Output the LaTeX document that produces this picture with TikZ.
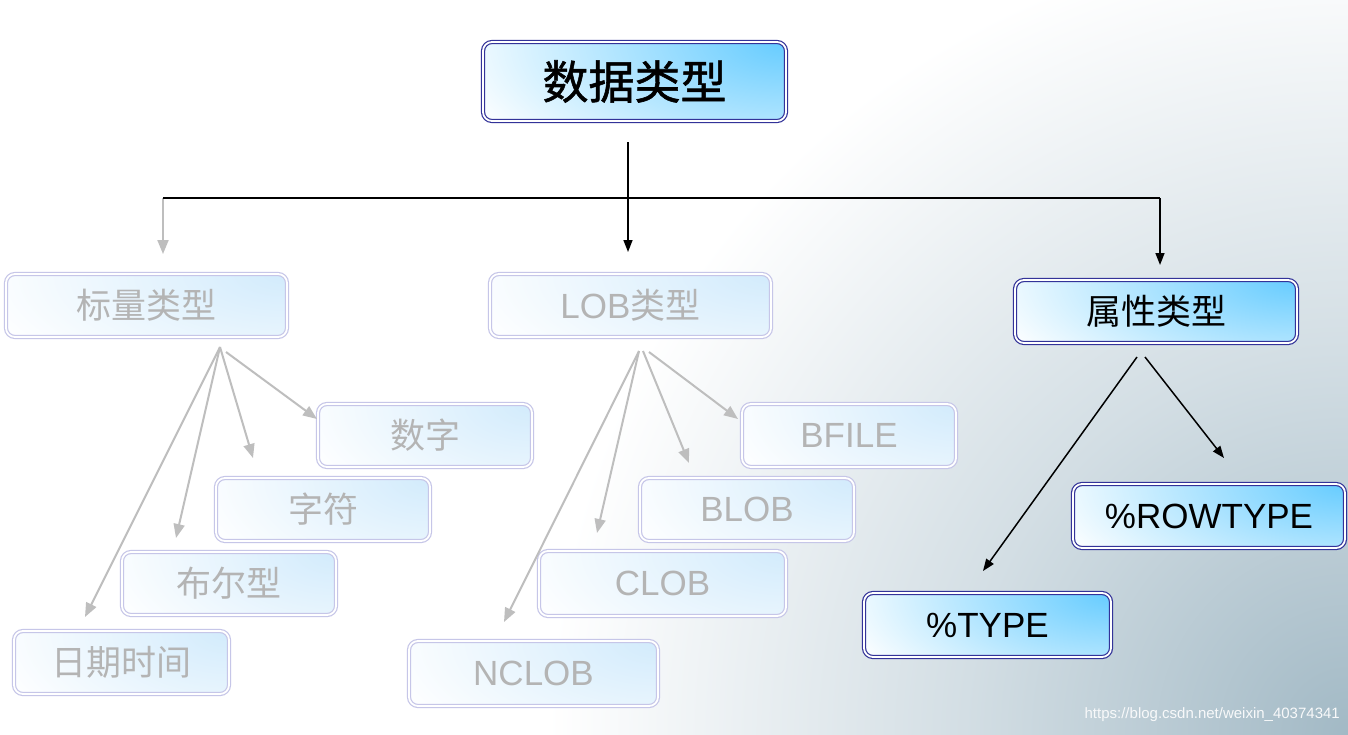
\documentclass[tikz,border=0pt]{standalone}
\usepackage{fontspec}
\setmainfont{Liberation Sans}
\newfontfamily\cjk{Noto Sans CJK SC}
\newfontfamily\cjkb{Noto Sans CJK SC}[FakeBold=1.2]
\usetikzlibrary{arrows.meta,calc}
\definecolor{skyA}{HTML}{66CCFF}
\definecolor{skyF}{HTML}{D2EBFC}
\definecolor{bordA}{HTML}{333399}
\definecolor{bordF}{HTML}{C6C6E8}
\definecolor{txtF}{HTML}{B4B4B4}
\definecolor{lnF}{HTML}{BEBEBE}
\definecolor{bgIn}{HTML}{A2B9C5}
\definecolor{bgMid}{HTML}{D3DEE4}
\pgfdeclareradialshading{bgshade}{\pgfpoint{0bp}{0bp}}{color(0bp)=(bgIn); color(6bp)=(bgMid); color(12.5bp)=(white); color(50bp)=(white)}
\tikzset{
  glow/.style={path picture={
    \shade[inner color=#1, outer color=white]
      let \p1=(path picture bounding box.north east),
          \p2=(path picture bounding box.south west) in
      (\p1) ellipse [x radius={1.15*(\x1-\x2)}, y radius={2.1*(\y1-\y2)}];}},
  basebox/.style={rectangle, rounded corners=9pt, line width=1.2pt,
    double=white, double distance=1.8pt, fill=white, inner sep=0pt,
    font=\fontsize{35}{40}\selectfont},
  actbox/.style={basebox, draw=bordA, glow=skyA, text=black},
  fadebox/.style={basebox, draw=bordF, glow=skyF, text=txtF},
  blk/.style={draw=black, line width=1.5pt},
  blkarr/.style={blk, -{Triangle[length=12pt,width=9pt]}},
  gry/.style={draw=lnF, line width=2pt},
  gryarr/.style={gry, -{Triangle[length=14pt,width=11pt]}},
}
\begin{document}
\begin{tikzpicture}[x=1pt,y=-1pt]
\useasboundingbox (0,0) rectangle (1348,734);
\begin{scope}
\clip (0,0) rectangle (1348,734);
\shade[shading=bgshade] (1348,734) circle (1600);
\end{scope}
% top
\node[actbox, minimum width=303pt, minimum height=79pt, font=\fontsize{46}{50}\selectfont] (root) at (634.5,81.5) {\cjkb 数据类型};
% level 2
\node[fadebox, minimum width=281pt, minimum height=63pt] (scalar) at (146.5,305.5) {\cjk 标量类型};
\node[fadebox, minimum width=281pt, minimum height=63pt] (lob) at (630.5,305.5) {LOB{\cjk 类型}};
\node[actbox, minimum width=282pt, minimum height=63pt] (attr) at (1156,311.5) {\cjk 属性类型};
% scalar children
\node[fadebox, minimum width=214pt, minimum height=63pt] (num) at (425,435.5) {\cjk 数字};
\node[fadebox, minimum width=214pt, minimum height=63pt] (chr) at (323,509.5) {\cjk 字符};
\node[fadebox, minimum width=214pt, minimum height=63pt] (bool) at (229,583.5) {\cjk 布尔型};
\node[fadebox, minimum width=215pt, minimum height=63pt] (date) at (121.5,662.5) {\cjk 日期时间};
% lob children
\node[fadebox, minimum width=214pt, minimum height=63pt] (bfile) at (849,435.5) {BFILE};
\node[fadebox, minimum width=214pt, minimum height=63pt] (blob) at (747,509.5) {BLOB};
\node[fadebox, minimum width=247pt, minimum height=65pt] (clob) at (662.5,583.5) {CLOB};
\node[fadebox, minimum width=249pt, minimum height=65pt] (nclob) at (533.5,673.5) {NCLOB};
% attr children
\node[actbox, minimum width=272pt, minimum height=64pt] (rowtype) at (1209,516) {\%ROWTYPE};
\node[actbox, minimum width=247pt, minimum height=64pt] (type) at (987.5,625) {\%TYPE};
% coordinates
\coordinate (rootout) at (628,142);
\coordinate (busL) at (163,198);
\coordinate (busR) at (1160,198);
\coordinate (tipScalar) at (163,254);
\coordinate (tipLob) at (628,252);
\coordinate (tipAttr) at (1160,265);
\coordinate (sO) at (220,347);
\coordinate (sO2) at (226,352);
\coordinate (tNum) at (317,419);
\coordinate (tChr) at (253,458);
\coordinate (tBool) at (176,538);
\coordinate (tDate) at (85,617);
\coordinate (lO) at (639,351);
\coordinate (lO1) at (643,351);
\coordinate (lO2) at (649,352);
\coordinate (tBfile) at (738,419);
\coordinate (tBlob) at (689,463);
\coordinate (tClob) at (597,533);
\coordinate (tNclob) at (504,622);
\coordinate (aO1) at (1137,357);
\coordinate (aO2) at (1145,357);
\coordinate (tType) at (983,571);
\coordinate (tRow) at (1224,458);
% connectors
\draw[gryarr] (busL) -- (tipScalar);
\draw[blk] (busL) -- (busR);
\draw[blkarr] (rootout) -- (tipLob);
\draw[blkarr] (busR) -- (tipAttr);
\draw[gryarr] (sO2) -- (tNum);
\draw[gryarr] (sO) -- (tChr);
\draw[gryarr] (sO) -- (tBool);
\draw[gryarr] (sO) -- (tDate);
\draw[gryarr] (lO2) -- (tBfile);
\draw[gryarr] (lO1) -- (tBlob);
\draw[gryarr] (lO) -- (tClob);
\draw[gryarr] (lO) -- (tNclob);
\draw[blkarr] (aO1) -- (tType);
\draw[blkarr] (aO2) -- (tRow);
% watermark
\node[anchor=east, text=white!92!bgIn, font=\fontsize{15}{18}\selectfont, inner sep=0pt] (wm) at (1340,715) {https://blog.csdn.net/weixin\_40374341};
\end{tikzpicture}
\end{document}
